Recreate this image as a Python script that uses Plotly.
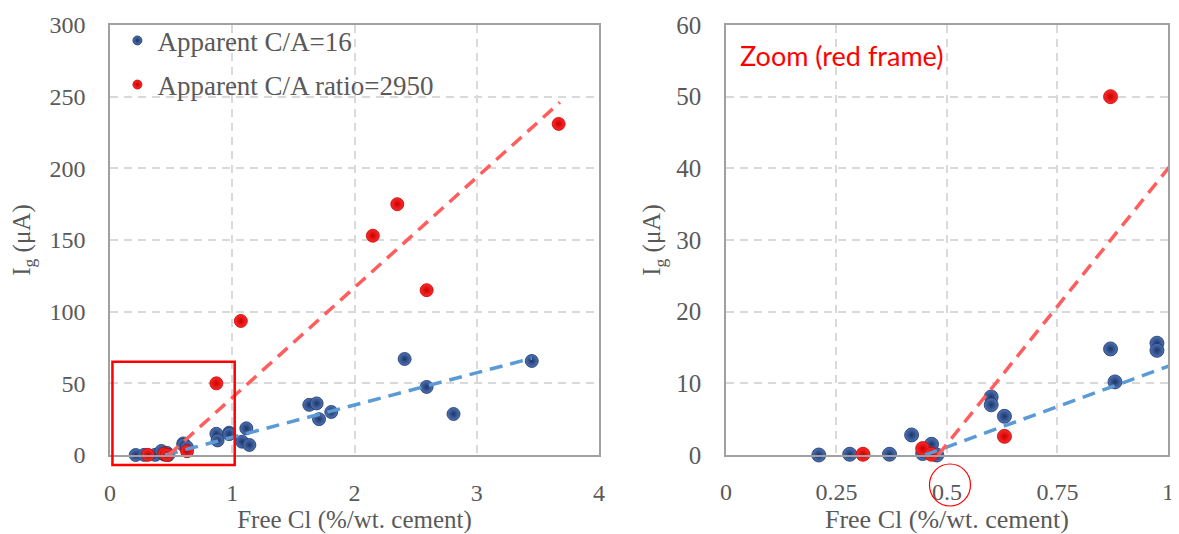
import plotly.graph_objects as go

# ---------------- data ----------------
blue_x = [0.21, 0.28, 0.37, 0.42, 0.445, 0.465, 0.477, 0.60, 0.60, 0.63, 0.87, 0.88, 0.975, 0.975,
          1.08, 1.115, 1.14, 1.63, 1.69, 1.71, 1.81, 2.41, 2.59, 2.81, 3.45]
blue_y = [0.0, 0.1, 0.1, 2.8, 0.2, 1.5, 0.0, 8.1, 7.0, 5.4, 14.8, 10.2, 15.6, 14.6,
          9.3, 18.6, 7.0, 35, 36, 25, 30, 67, 47.5, 28.6, 65.6]
red_x = [0.31, 0.445, 0.465, 0.63, 0.87, 1.07, 2.15, 2.35, 2.59, 3.67]
red_y = [0.1, 0.9, 0.1, 2.6, 50, 93.5, 153, 175, 115, 231]

blue_fit_x = [0.45, 3.45]
blue_fit_y = [0.0, 67.5]
red_fit_x = [0.48, 3.68]
red_fit_y = [0.0, 246.0]

blue_name = "Apparent C/A=16"
red_name = "Apparent C/A ratio=2950"

left_xticks = [0, 1, 2, 3, 4]
left_yticks = [0, 50, 100, 150, 200, 250, 300]
right_xticks = [0, 0.25, 0.5, 0.75, 1]
right_xticklabels = ["0", "0.25", "0.5", "0.75", "1"]
right_yticks = [0, 10, 20, 30, 40, 50, 60]

left_range_x = [0, 4]
left_range_y = [0, 300]
right_range_x = [0, 1]
right_range_y = [0, 60]

zoom_box = dict(x0=0.02, x1=1.02, y0=-7, y1=65)   # red frame, data units of left plot
zoom_text = "Zoom (red frame)"
x_title = "Free Cl (%/wt. cement)"
y_title = "I<sub>g</sub> (μA)"

# ---------------- styling ----------------
# page body has an 8px margin, so the figure is 8px smaller than the window
W, H = 1171, 526
ML, MR, MT, MB = 102, 11, 17, 79
dom_left = [0.0, 0.4622]
dom_right = [0.5822, 1.0]

BLUE = "#1C3566"
BLUE_C = "#4F74B8"
RED = "#C80000"
RED_C = "#FF2A2A"
GRAY = "#595959"
GRID = "#D9D9D9"
AXIS = "#A0A0A0"
FONT = "Liberation Serif"

fig = go.Figure()


def marker(col, center, size=13):
    return dict(size=size, color=center, line=dict(color=col, width=0.8),
                gradient=dict(type="radial", color=col))


BLUE_LINE = dict(color="#5B9BD5", width=3.5, dash="13px,8px")
RED_LINE = dict(color="#FF5E5E", width=3.5, dash="13px,8px")

# Left plot
fig.add_trace(go.Scatter(x=blue_x, y=blue_y, mode="markers", marker=marker(BLUE, BLUE_C),
                         showlegend=False, cliponaxis=False, xaxis="x", yaxis="y"))
fig.add_trace(go.Scatter(x=red_x, y=red_y, mode="markers", marker=marker(RED, RED_C),
                         showlegend=False, cliponaxis=False, xaxis="x", yaxis="y"))
fig.add_trace(go.Scatter(x=blue_fit_x, y=blue_fit_y, mode="lines", line=BLUE_LINE,
                         showlegend=False, xaxis="x", yaxis="y"))
fig.add_trace(go.Scatter(x=red_fit_x, y=red_fit_y, mode="lines", line=RED_LINE,
                         showlegend=False, xaxis="x", yaxis="y"))


# Right (zoom) plot: only points inside the zoom window
def inside(xs, ys):
    px, py = [], []
    for a, b in zip(xs, ys):
        if right_range_x[0] <= a <= right_range_x[1] and right_range_y[0] <= b <= right_range_y[1]:
            px.append(a)
            py.append(b)
    return px, py


bx2, by2 = inside(blue_x, blue_y)
rx2, ry2 = inside(red_x, red_y)
fig.add_trace(go.Scatter(x=bx2, y=by2, mode="markers", marker=marker(BLUE, BLUE_C, 14),
                         showlegend=False, cliponaxis=False, xaxis="x2", yaxis="y2"))
fig.add_trace(go.Scatter(x=rx2, y=ry2, mode="markers", marker=marker(RED, RED_C, 14),
                         showlegend=False, cliponaxis=False, xaxis="x2", yaxis="y2"))
fig.add_trace(go.Scatter(x=blue_fit_x, y=blue_fit_y, mode="lines", line=BLUE_LINE,
                         showlegend=False, xaxis="x2", yaxis="y2"))
fig.add_trace(go.Scatter(x=red_fit_x, y=red_fit_y, mode="lines", line=RED_LINE,
                         showlegend=False, xaxis="x2", yaxis="y2"))

# legend entries (small markers)
fig.add_trace(go.Scatter(x=[None], y=[None], mode="markers", name=blue_name,
                         marker=marker(BLUE, BLUE_C, 9), legendgroup="a", xaxis="x", yaxis="y"))
fig.add_trace(go.Scatter(x=[None], y=[None], mode="markers", name=red_name,
                         marker=marker(RED, RED_C, 9), legendgroup="b", xaxis="x", yaxis="y"))

common = dict(showline=True, linecolor=AXIS, linewidth=1.5, mirror=True,
              showgrid=True, gridcolor=GRID, gridwidth=1.5, griddash="8px,6px",
              zeroline=False, ticks="", fixedrange=True, automargin=False)

fig.update_layout(
    width=W, height=H,
    margin=dict(l=ML, r=MR, t=MT, b=MB, autoexpand=False),
    paper_bgcolor="white", plot_bgcolor="white",
    xaxis=dict(domain=dom_left, range=left_range_x, tickvals=left_xticks,
               tickfont=dict(family=FONT, size=24, color=GRAY),
               title=dict(text=x_title, font=dict(family=FONT, size=25, color=GRAY), standoff=6),
               ticklabelstandoff=15, anchor="y", **common),
    yaxis=dict(domain=[0, 1], range=left_range_y, tickvals=left_yticks,
               tickfont=dict(family=FONT, size=24, color=GRAY),
               title=dict(text=y_title, font=dict(family=FONT, size=25, color=GRAY), standoff=14),
               ticklabelstandoff=18, anchor="x", **common),
    xaxis2=dict(domain=dom_right, range=right_range_x, tickvals=right_xticks,
                ticktext=right_xticklabels,
                tickfont=dict(family=FONT, size=24, color=GRAY),
                title=dict(text=x_title, font=dict(family=FONT, size=26, color=GRAY), standoff=8),
                ticklabelstandoff=14, anchor="y2", **common),
    yaxis2=dict(domain=[0, 1], range=right_range_y, tickvals=right_yticks,
                tickfont=dict(family=FONT, size=25, color=GRAY),
                title=dict(text=y_title, font=dict(family=FONT, size=25, color=GRAY), standoff=8),
                ticklabelstandoff=18, anchor="x2", **common),
    legend=dict(x=0.007, y=1.02, xanchor="left", yanchor="top",
                font=dict(family=FONT, size=27, color=GRAY),
                bgcolor="rgba(0,0,0,0)", tracegroupgap=6, traceorder="grouped"),
)


# helpers to convert data coordinates to paper coordinates
def px_left(v):
    return dom_left[0] + (v - left_range_x[0]) / (left_range_x[1] - left_range_x[0]) * (dom_left[1] - dom_left[0])


def py_left(v):
    return (v - left_range_y[0]) / (left_range_y[1] - left_range_y[0])


def px_right(v):
    return dom_right[0] + (v - right_range_x[0]) / (right_range_x[1] - right_range_x[0]) * (dom_right[1] - dom_right[0])


plot_w = W - ML - MR
plot_h = H - MT - MB

# red frame on the left plot
fig.add_shape(type="rect", xref="paper", yref="paper",
              x0=px_left(zoom_box["x0"]), x1=px_left(zoom_box["x1"]),
              y0=py_left(zoom_box["y0"]), y1=py_left(zoom_box["y1"]),
              line=dict(color="#FF0000", width=2.5), layer="above")

# red circle around the 0.5 tick label
cx = px_right(0.5) + 3 / plot_w
rx = 20.5 / plot_w
cy = -30 / plot_h
ry = 21 / plot_h
fig.add_shape(type="circle", xref="paper", yref="paper",
              x0=cx - rx, x1=cx + rx, y0=cy - ry, y1=cy + ry,
              line=dict(color="#FF0000", width=1.2), layer="above")

fig.add_annotation(text=zoom_text, xref="paper", yref="paper",
                   x=px_right(0.028), y=(455 - 55) / 430, xanchor="left", yanchor="middle",
                   showarrow=False, font=dict(family="Lato", size=27, color="#FF0000"))

fig.write_html("out.html")
